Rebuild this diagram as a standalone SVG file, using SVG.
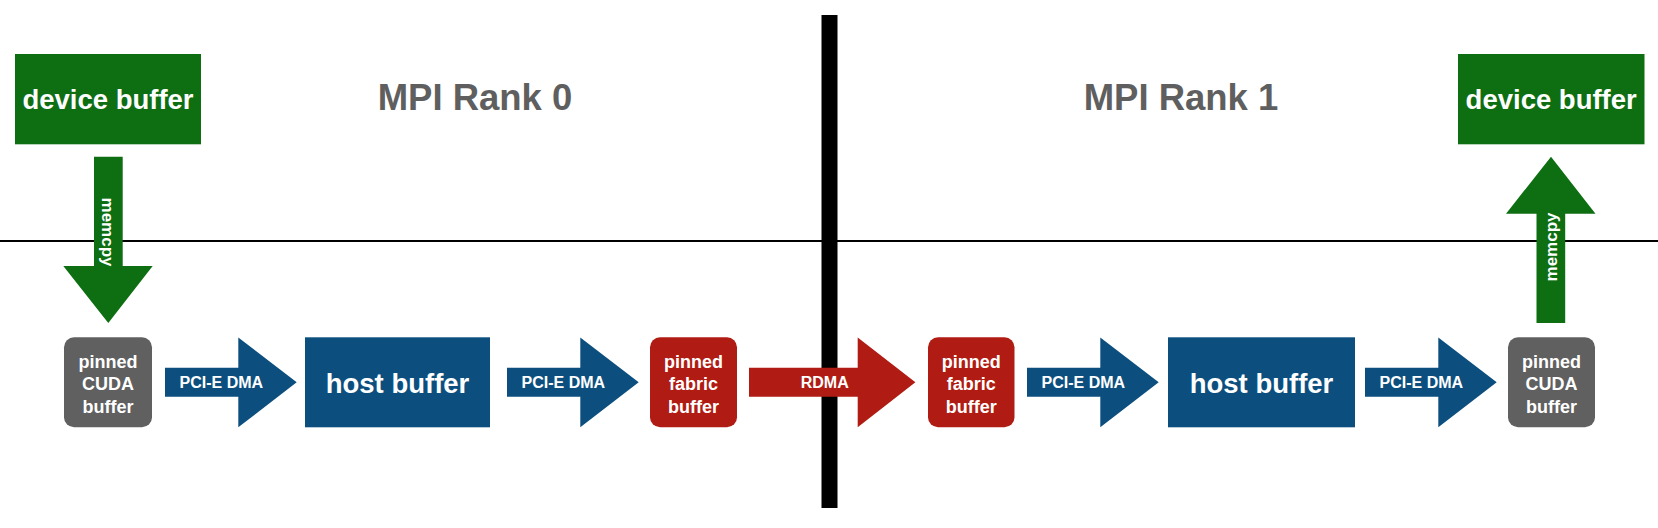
<svg xmlns="http://www.w3.org/2000/svg" width="1658" height="528" viewBox="0 0 1658 528">
<style>
text{font-family:"Liberation Sans",Arial,Helvetica,sans-serif;font-weight:bold;text-anchor:middle}
.w{fill:#ffffff}
.green{fill:#0e6e12}
.blue{fill:#0c4f7f}
.red{fill:#b01c13}
.grey{fill:#606060}
.title{fill:#5f5f5f;font-size:36.5px}
.big{font-size:27.5px}
.mid{font-size:18px}
.lbl{font-size:16px}
.mc{font-size:17px}
</style>
<rect width="1658" height="528" fill="#ffffff"/>
<g id="dividers">
<line x1="0" y1="241" x2="1658" y2="241" stroke="#000" stroke-width="2"/>
<rect x="821.5" y="15" width="16" height="493" fill="#000"/>
</g>
<g id="titles">
<text class="title" x="475" y="110">MPI Rank 0</text>
<text class="title" x="1181" y="110">MPI Rank 1</text>
</g>
<g id="connectors">
<g id="memcpy-left">
<polygon class="green" points="94,156.7 122.7,156.7 122.7,266 152.7,266 108.3,323 63.3,266 94,266"/>
<text class="w mc" transform="translate(108.3,232) rotate(90)" y="5.8">memcpy</text>
</g>
<g id="dma1">
<polygon class="blue" points="165,367.7 238.3,367.7 238.3,337.5 296.7,382.3 238.3,427.3 238.3,396.7 165,396.7"/>
<text class="w lbl" x="221.3" y="388">PCI-E DMA</text>
</g>
<g id="dma2">
<polygon class="blue" points="507,367.7 580.3,367.7 580.3,337.5 638.7,382.3 580.3,427.3 580.3,396.7 507,396.7"/>
<text class="w lbl" x="563.3" y="388">PCI-E DMA</text>
</g>
<g id="rdma">
<polygon class="red" points="749,367.7 857.7,367.7 857.7,337.5 915.4,382.3 857.7,427.3 857.7,396.7 749,396.7"/>
<text class="w lbl" x="824.7" y="388">RDMA</text>
</g>
<g id="dma3">
<polygon class="blue" points="1027,367.7 1100.3,367.7 1100.3,337.5 1158.7,382.3 1100.3,427.3 1100.3,396.7 1027,396.7"/>
<text class="w lbl" x="1083.3" y="388">PCI-E DMA</text>
</g>
<g id="dma4">
<polygon class="blue" points="1365,367.7 1438.3,367.7 1438.3,337.5 1496.7,382.3 1438.3,427.3 1438.3,396.7 1365,396.7"/>
<text class="w lbl" x="1421.3" y="388">PCI-E DMA</text>
</g>
<g id="memcpy-right">
<polygon class="green" points="1536.5,323 1565.2,323 1565.2,213.7 1595.5,213.7 1551,156.7 1506,213.7 1536.5,213.7"/>
<text class="w mc" transform="translate(1551,247) rotate(-90)" y="5.8">memcpy</text>
</g>
</g>
<g id="device-buffer-0">
<rect class="green" x="15" y="54" width="186" height="90.3"/>
<text class="w big" x="108" y="109">device buffer</text>
</g>
<g id="pinned-cuda-0">
<rect class="grey" x="64" y="337.3" width="88" height="90" rx="10"/>
<text class="w mid" x="108" y="367.5">pinned</text>
<text class="w mid" x="108" y="390">CUDA</text>
<text class="w mid" x="108" y="412.5">buffer</text>
</g>
<g id="host-buffer-0">
<rect class="blue" x="305" y="337.3" width="185" height="90"/>
<text class="w big" x="397.5" y="392.5">host buffer</text>
</g>
<g id="pinned-fabric-0">
<rect class="red" x="650" y="337.3" width="87" height="90" rx="10"/>
<text class="w mid" x="693.5" y="367.5">pinned</text>
<text class="w mid" x="693.5" y="390">fabric</text>
<text class="w mid" x="693.5" y="412.5">buffer</text>
</g>
<g id="pinned-fabric-1">
<rect class="red" x="928" y="337.3" width="86.5" height="90" rx="10"/>
<text class="w mid" x="971.2" y="367.5">pinned</text>
<text class="w mid" x="971.2" y="390">fabric</text>
<text class="w mid" x="971.2" y="412.5">buffer</text>
</g>
<g id="host-buffer-1">
<rect class="blue" x="1168" y="337.3" width="187" height="90"/>
<text class="w big" x="1261.5" y="392.5">host buffer</text>
</g>
<g id="pinned-cuda-1">
<rect class="grey" x="1508" y="337.3" width="87" height="90" rx="10"/>
<text class="w mid" x="1551.5" y="367.5">pinned</text>
<text class="w mid" x="1551.5" y="390">CUDA</text>
<text class="w mid" x="1551.5" y="412.5">buffer</text>
</g>
<g id="device-buffer-1">
<rect class="green" x="1458" y="54" width="186.5" height="90.3"/>
<text class="w big" x="1551.2" y="109">device buffer</text>
</g>
</svg>
